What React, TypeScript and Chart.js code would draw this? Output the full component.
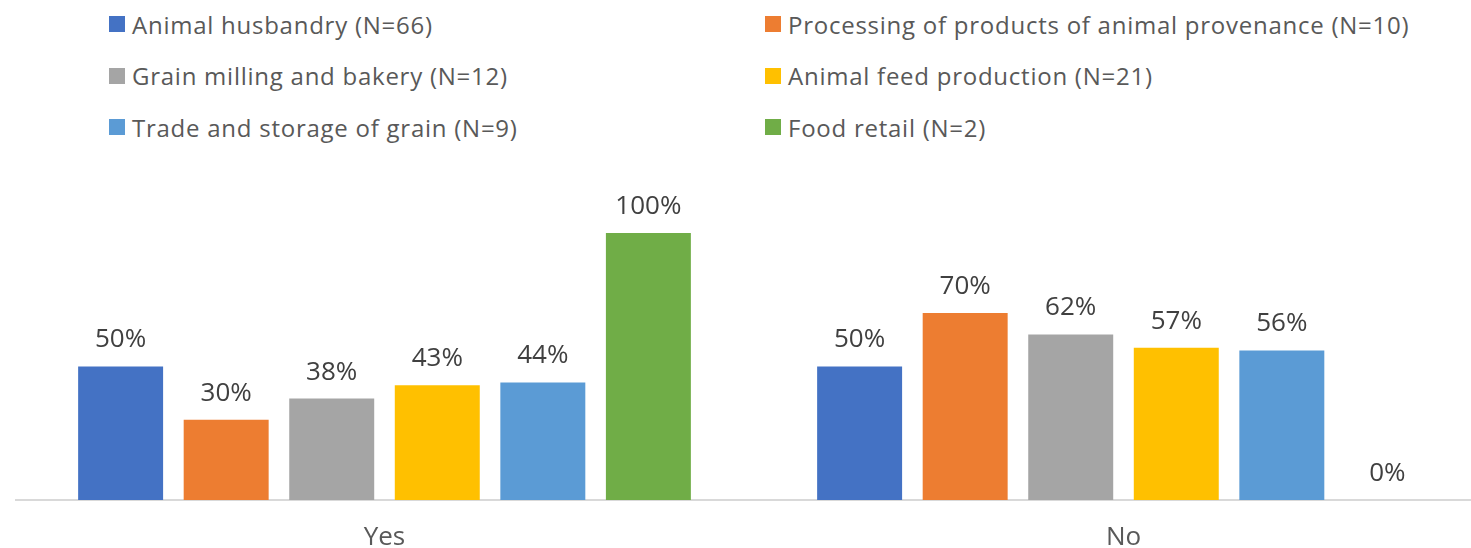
import React, { useEffect, useRef } from "react";
import { Chart, registerables } from "chart.js";

Chart.register(...registerables);

const categories = ["Yes", "No"];
const seriesNames = [
  "Animal husbandry (N=66)",
  "Processing of products of animal provenance (N=10)",
  "Grain milling and bakery (N=12)",
  "Animal feed production (N=21)",
  "Trade and storage of grain (N=9)",
  "Food retail (N=2)",
];
const animalHusbandry = [50, 50];
const processing = [30, 70];
const grainMilling = [38, 62];
const animalFeed = [43, 57];
const tradeStorage = [44, 56];
const foodRetail = [100, 0];
const seriesValues = [animalHusbandry, processing, grainMilling, animalFeed, tradeStorage, foodRetail];
const colors = ["#4472C4", "#ED7D31", "#A5A5A5", "#FFC000", "#5B9BD5", "#70AD47"];

const FONT = "'Open Sans', sans-serif";

const labelPlugin = {
  id: "barLabels",
  afterDatasetsDraw(chart: any) {
    const ctx = chart.ctx;
    ctx.save();
    ctx.font = `26px ${FONT}`;
    ctx.fillStyle = "#404040";
    ctx.textAlign = "center";
    ctx.textBaseline = "alphabetic";
    chart.data.datasets.forEach((ds: any, i: number) => {
      const meta = chart.getDatasetMeta(i);
      meta.data.forEach((el: any, j: number) => {
        ctx.fillText(`${ds.data[j]}%`, el.x, el.y - 19);
      });
    });
    ctx.restore();
  },
};

function Legend() {
  // two columns, three rows: left column holds series 0,2,4; right holds 1,3,5
  const items = seriesNames.map((name, i) => ({ name, color: colors[i], col: i % 2, row: Math.floor(i / 2) }));
  return (
    <>
      {items.map((it) => (
        <div
          key={it.name}
          style={{
            position: "absolute",
            left: it.col === 0 ? 109 : 765,
            top: 24 + it.row * 51.5 - 16,
            height: 32,
            display: "flex",
            alignItems: "center",
            whiteSpace: "nowrap",
            fontFamily: FONT,
            fontSize: 24,
            letterSpacing: "0.75px",
            color: "#595959",
          }}
        >
          <span style={{ display: "inline-block", width: 16, height: 16, background: it.color, marginRight: 7 }} />
          <span>{it.name}</span>
        </div>
      ))}
    </>
  );
}

export default function App() {
  const ref = useRef<HTMLCanvasElement>(null);
  useEffect(() => {
    if (!ref.current) return;
    const chart = new Chart(ref.current, {
      type: "bar",
      data: {
        labels: categories,
        datasets: seriesValues.map((vals, i) => ({
          label: seriesNames[i],
          data: vals,
          backgroundColor: colors[i],
          borderWidth: 0,
          barPercentage: 0.805,
          categoryPercentage: 0.857,
        })),
      },
      options: {
        animation: false,
        responsive: false,
        maintainAspectRatio: false,
        layout: { padding: 0 },
        plugins: { legend: { display: false }, tooltip: { enabled: false } },
        scales: {
          y: { display: false, min: 0, max: 127.3 },
          x: {
            grid: { display: false, drawTicks: false },
            border: { display: true, color: "#d9d9d9", width: 2 },
            ticks: { font: { family: FONT, size: 26 }, color: "#595959", padding: 22 },
            afterFit: (scale: any) => {
              scale.height = 48;
            },
          },
        },
      },
      plugins: [labelPlugin],
    });
    return () => chart.destroy();
  }, []);
  return (
    <div style={{ position: "fixed", left: 0, top: 0, width: 1471, height: 548, overflow: "hidden", background: "#fff" }}>
      <Legend />
      <div style={{ position: "absolute", left: 15, top: 160, width: 1478, height: 388 }}>
        <canvas ref={ref} width={1478} height={388} style={{ width: 1478, height: 388 }} />
      </div>
    </div>
  );
}
